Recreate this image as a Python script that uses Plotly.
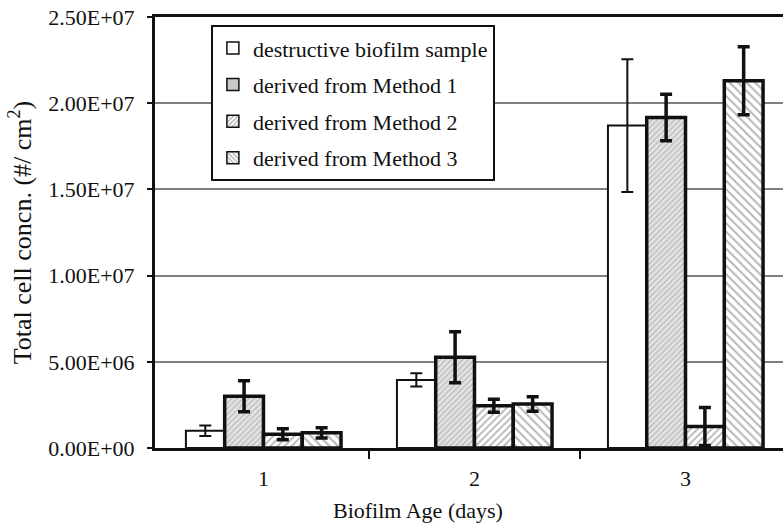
import plotly.graph_objects as go

days = [1, 2, 3]
day_labels = ["1", "2", "3"]
series_names = ["destructive biofilm sample", "derived from Method 1",
                "derived from Method 2", "derived from Method 3"]
destructive = [1.0e6, 3.95e6, 1.87e7]
destructive_err = [0.3e6, 0.38e6, 3.85e6]
method1 = [3.0e6, 5.27e6, 1.917e7]
method1_err = [0.9e6, 1.48e6, 1.35e6]
method2 = [0.8e6, 2.45e6, 1.25e6]
method2_err = [0.32e6, 0.38e6, 1.1e6]
method3 = [0.88e6, 2.55e6, 2.13e7]
method3_err = [0.3e6, 0.42e6, 1.97e6]
y_ticks = [0, 5e6, 1e7, 1.5e7, 2e7, 2.5e7]
boundaries = [1.5, 2.5]

values = [destructive, method1, method2, method3]
errors = [destructive_err, method1_err, method2_err, method3_err]
fills = [
    dict(color="white", pattern=dict(shape="")),
    dict(color="#e4e4e4", pattern=dict(shape="/", fgcolor="#8a8a8a", bgcolor="#e4e4e4", size=4, solidity=0.3)),
    dict(color="white", pattern=dict(shape="/", fgcolor="#707070", bgcolor="white", size=5, solidity=0.35)),
    dict(color="white", pattern=dict(shape="\\", fgcolor="#707070", bgcolor="white", size=6, solidity=0.35)),
]
legend_fills = [
    dict(color="white", pattern=dict(shape="")),
    dict(color="#c8c8c8", pattern=dict(shape="")),
    dict(color="white", pattern=dict(shape="/", fgcolor="#606060", bgcolor="white", size=4, solidity=0.45)),
    dict(color="white", pattern=dict(shape="\\", fgcolor="#606060", bgcolor="white", size=4, solidity=0.45)),
]
bar_line = [2, 3.5, 3.5, 3.5]
err_thick = [2, 3.5, 3.5, 3.5]

FONT = "Liberation Serif"
INK = "#111"
fig = go.Figure()
for i, name in enumerate(series_names):
    fig.add_trace(go.Bar(
        x=days, y=values[i], name=name, showlegend=False,
        marker=dict(color=fills[i]["color"], pattern=fills[i]["pattern"],
                    line=dict(color=INK, width=bar_line[i])),
        error_y=dict(type="data", array=errors[i], color=INK, thickness=err_thick[i], width=6),
    ))
# legend-only entries (thin-bordered swatches), on a hidden overlay axis so they don't affect grouping
for i, name in enumerate(series_names):
    fig.add_trace(go.Bar(
        x=[None], y=[None], name=name, legendgroup=name, showlegend=True,
        xaxis="x2", yaxis="y2",
        marker=dict(color=legend_fills[i]["color"], pattern=legend_fills[i]["pattern"],
                    line=dict(color=INK, width=1.5)),
    ))

fig.update_layout(
    width=783, height=527,
    margin=dict(l=155, r=0, t=17, b=79),
    paper_bgcolor="white", plot_bgcolor="white",
    barmode="group", bargap=0.265, bargroupgap=0,
    font=dict(family=FONT, size=22, color=INK),
    legend=dict(x=0.089, y=0.981, xanchor="left", yanchor="top",
                bgcolor="white", bordercolor=INK, borderwidth=2,
                font=dict(family=FONT, size=22, color=INK),
                tracegroupgap=5, traceorder="grouped"),
    xaxis=dict(range=[0.486, 3.462], tickvals=days, ticktext=day_labels, ticks="",
               ticklabelstandoff=9, tickfont=dict(size=22),
               showline=True, linecolor=INK, linewidth=3, mirror=True, showgrid=False, zeroline=False,
               minor=dict(tickvals=boundaries, ticks="outside", ticklen=8, tickwidth=2, tickcolor=INK)),
    yaxis=dict(range=[0, 2.5e7], tickvals=y_ticks, ticktext=[f"{v:.2E}" for v in y_ticks],
               ticks="outside", ticklen=5, tickwidth=2, tickcolor=INK, ticklabelstandoff=8,
               tickfont=dict(size=22),
               showline=True, linecolor=INK, linewidth=3,
               showgrid=True, gridcolor="#808080", gridwidth=1.5, zeroline=False,
               title=dict(text="Total cell concn. (#/ cm<sup>2</sup>)", standoff=10,
                          font=dict(family=FONT, size=26, color=INK))),
    xaxis2=dict(overlaying="x", visible=False, range=[0, 1]),
    yaxis2=dict(overlaying="y", visible=False, range=[0, 1]),
    annotations=[dict(text="Biofilm Age (days)", xref="paper", yref="paper", x=0.419, y=-0.144,
                      xanchor="center", yanchor="middle", showarrow=False,
                      font=dict(family=FONT, size=22, color=INK))],
)

fig.write_html("out.html")
